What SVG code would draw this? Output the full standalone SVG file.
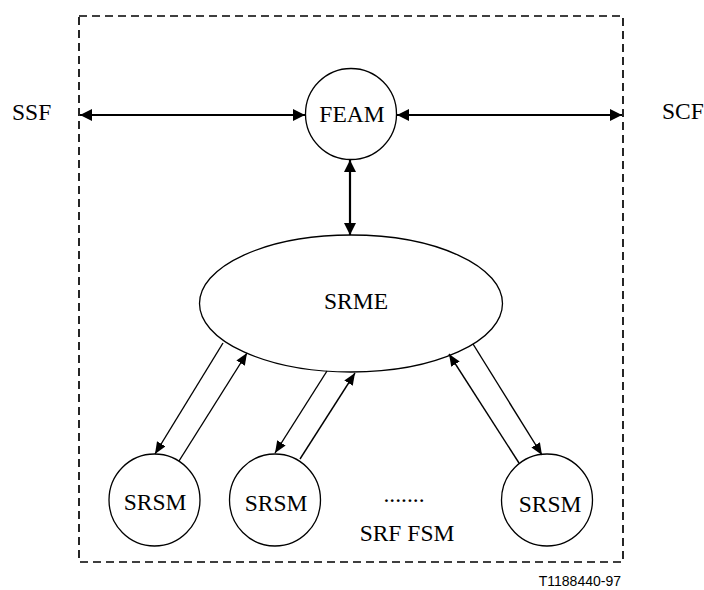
<svg xmlns="http://www.w3.org/2000/svg" width="704" height="590" viewBox="0 0 704 590">
<defs>
<marker id="ah" markerUnits="userSpaceOnUse" markerWidth="13" markerHeight="12" refX="12" refY="6" orient="auto-start-reverse">
<path d="M0,0 L12,6 L0,12 z" fill="#000"/>
</marker>
<marker id="ahs" markerUnits="userSpaceOnUse" markerWidth="13" markerHeight="11" refX="12" refY="5" orient="auto-start-reverse">
<path d="M0,0 L12,5 L0,10 z" fill="#000"/>
</marker>
</defs>
<style>
.t{font-family:"Liberation Serif","Times New Roman",serif;font-size:23.5px;fill:#000}
.n{fill:#fff;stroke:#000;stroke-width:1.3}
.main{stroke:#000;stroke-width:2.2;fill:none}
.thin{stroke:#000;stroke-width:1.4;fill:none}
</style>
<rect width="704" height="590" fill="#fff"/>
<g id="boundary">
<rect x="79" y="16" width="544" height="546" fill="none" stroke="#000" stroke-width="1.7" stroke-dasharray="8,5"/>
<text class="t" x="407" y="541" text-anchor="middle">SRF FSM</text>
<text class="t" x="404" y="502" text-anchor="middle">.......</text>
</g>
<g id="ssf"><text class="t" x="12" y="120">SSF</text></g>
<g id="scf"><text class="t" x="662" y="119">SCF</text></g>
<g id="feam">
<ellipse class="n" cx="351" cy="114" rx="45.5" ry="45.5"/>
<text class="t" x="352" y="122" text-anchor="middle">FEAM</text>
</g>
<g id="srme">
<ellipse class="n" cx="351" cy="303.5" rx="151.5" ry="68.5"/>
<text class="t" x="356" y="309" text-anchor="middle">SRME</text>
</g>
<g id="srsm1">
<ellipse class="n" cx="154.5" cy="500" rx="45.5" ry="46"/>
<text class="t" x="155" y="510" text-anchor="middle">SRSM</text>
</g>
<g id="srsm2">
<ellipse class="n" cx="275" cy="500" rx="45.5" ry="46"/>
<text class="t" x="276" y="511" text-anchor="middle">SRSM</text>
</g>
<g id="srsm3">
<ellipse class="n" cx="547" cy="500" rx="45.5" ry="46"/>
<text class="t" x="550" y="512" text-anchor="middle">SRSM</text>
</g>
<g id="connectors">
<line class="main" x1="80" y1="115" x2="305" y2="115" marker-start="url(#ah)" marker-end="url(#ah)"/>
<line class="main" x1="397" y1="115" x2="622" y2="115" marker-start="url(#ah)" marker-end="url(#ah)"/>
<line class="main" x1="350" y1="160" x2="350" y2="235" marker-start="url(#ah)" marker-end="url(#ah)"/>
<line class="thin" x1="223" y1="343" x2="155" y2="454" marker-end="url(#ahs)"/>
<line class="thin" x1="179" y1="461" x2="247" y2="353" marker-end="url(#ahs)"/>
<line class="thin" x1="327" y1="371" x2="275" y2="453" marker-end="url(#ahs)"/>
<line class="thin" x1="300" y1="459" x2="355" y2="373" marker-end="url(#ahs)"/>
<line class="thin" x1="519" y1="463" x2="449" y2="354" marker-end="url(#ahs)"/>
<line class="thin" x1="473" y1="344" x2="542" y2="455" marker-end="url(#ahs)"/>
</g>
<g id="figid">
<text x="621" y="586" text-anchor="end" font-family="'Liberation Sans',Arial,sans-serif" font-size="14" fill="#000">T1188440-97</text>
</g>
</svg>
